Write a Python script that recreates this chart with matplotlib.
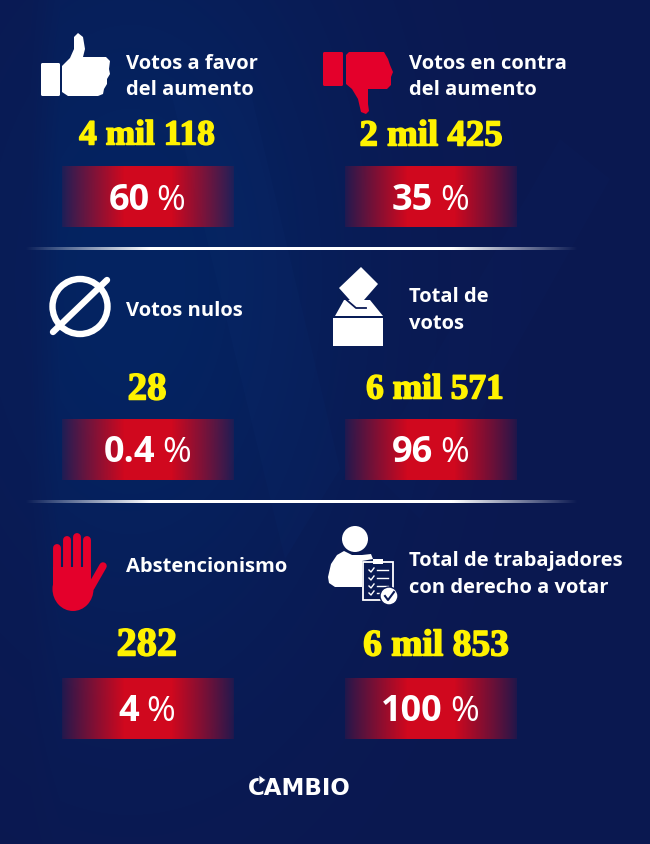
import numpy as np
import matplotlib
matplotlib.use("Agg")
import matplotlib.pyplot as plt
import matplotlib.patheffects as pe
from matplotlib.patches import Polygon, Circle, Rectangle, Ellipse, FancyBboxPatch

# Data
titles = [["Votos a favor", "del aumento"], ["Votos en contra", "del aumento"],
          ["Votos nulos"], ["Total de", "votos"],
          ["Abstencionismo"], ["Total de trabajadores", "con derecho a votar"]]
counts = ["4 mil 118", "2 mil 425", "28", "6 mil 571", "282", "6 mil 853"]
percents = ["60", "35", "0.4", "96", "4", "100"]
logo = "CAMBIO"

# layout in pixels of the 650x845 picture
W, H = 650, 845
col_title_x = [126, 409]
col_center_x = [148, 431]
row_line_y = [[64, 90], [297, 324], [561, 588]]
row_single_y = [75, 311, 567]
row_count_y = [137, 391, 647]
count_center_x = [147, 431, 147, 435, 147, 436]
count_size = [25.5, 26.5, 28, 25.5, 29, 27]
row_band_top = [167, 420, 679]
band_h = 61
band_w = 172
divider_y = [249, 502]

WHITE = "#ffffff"
YELLOW = "#fff200"
RED = "#e4002b"
NAVY = "#0b1a55"

fig = plt.figure(figsize=(6.5, 8.45), dpi=100)
ax = fig.add_axes([0, 0, 1, 1])
ax.set_xlim(0, W)
ax.set_ylim(H, 0)
ax.axis("off")

# background
yy, xx = np.mgrid[0:H, 0:W]
glow = np.exp(-((xx - 130) / 230.0) ** 2 - ((yy - 280) / 400.0) ** 2)
glow = glow * np.clip(xx / 60.0, 0.5, 1)
bg = np.zeros((H, W, 3))
bg[..., 0] = (11 - 7 * glow) / 255
bg[..., 1] = (24 + 12 * glow) / 255
bg[..., 2] = (80 + 18 * glow) / 255
ax.imshow(bg, extent=[0, W, H, 0], aspect="auto", zorder=0)

# faint logo shapes behind everything
ax.add_patch(Polygon([(170, 90), (250, 90), (340, 470), (285, 560)], color="#1a4a99", alpha=0.05, lw=0, zorder=1))
ax.add_patch(Polygon([(560, 140), (610, 180), (420, 520), (370, 470)], color="#1a4a99", alpha=0.03, lw=0, zorder=1))


def text_width(t):
    return t.get_window_extent(fig.canvas.get_renderer()).width


# red bands
def band(cx, top):
    n = 172
    pos = np.abs(np.linspace(-1, 1, n))
    alpha = np.clip((1.0 - pos) / 0.72, 0, 1) ** 0.9 * 0.88 + 0.12
    img = np.zeros((1, n, 4))
    img[..., 0] = 208 / 255
    img[..., 1] = 8 / 255
    img[..., 2] = 30 / 255
    img[0, :, 3] = alpha
    ax.imshow(img, extent=[cx - band_w / 2, cx + band_w / 2, top + band_h, top], aspect="auto", zorder=2)


# divider lines that fade at both ends
for y in divider_y:
    n = 553
    pos = np.abs(np.linspace(-1, 1, n))
    img = np.ones((1, n, 4))
    img[0, :, 3] = np.clip((1.0 - pos) / 0.45, 0, 1)
    ax.imshow(img, extent=[25, 578, y + 1.5, y - 1.5], aspect="auto", zorder=2)

ax.set_xlim(0, W)
ax.set_ylim(H, 0)

# text for every cell
for i in range(6):
    col = i % 2
    row = i // 2
    lines = titles[i]
    if len(lines) == 2:
        for k, line in enumerate(lines):
            ax.text(col_title_x[col], row_line_y[row][k], line, color=WHITE, fontsize=14.5,
                    fontweight="bold", family="Open Sans", ha="left", va="center", zorder=5)
    else:
        ax.text(col_title_x[col], row_single_y[row], lines[0], color=WHITE, fontsize=14.5,
                fontweight="bold", family="Open Sans", ha="left", va="center", zorder=5)

    t = ax.text(count_center_x[i], row_count_y[row], counts[i], color=YELLOW, fontsize=count_size[i],
                fontweight="bold", family="Liberation Serif", ha="center", va="center", zorder=5)
    t.set_path_effects([pe.withStroke(linewidth=1.1, foreground=YELLOW)])

    cx = col_center_x[col]
    band(cx, row_band_top[row])
    # number in bold, percent sign in regular, centred together
    cy = row_band_top[row] + band_h / 2 + 3
    t1 = ax.text(0, cy, percents[i], color=WHITE, fontsize=26, fontweight="bold", family="Open Sans",
                 ha="left", va="center", zorder=5)
    t2 = ax.text(0, cy, "%", color=WHITE, fontsize=25, family="Open Sans", ha="left", va="center", zorder=5)
    w1 = text_width(t1)
    w2 = text_width(t2)
    left = cx - 1 - (w1 + 7 + w2) / 2
    t1.set_x(left)
    t2.set_x(left + w1 + 7)

ax.set_xlim(0, W)
ax.set_ylim(H, 0)

# thumb up
ax.add_patch(FancyBboxPatch((41, 64), 19, 33, boxstyle="round,pad=0,rounding_size=1.5", color=WHITE, lw=0, zorder=4))
ax.add_patch(Polygon([(62, 67), (70, 59), (74, 50), (74, 38), (78, 34), (83, 38), (85, 50), (83, 58), (106, 58),
                      (110, 62), (109, 70), (110, 75), (107, 80), (107, 85), (104, 90), (103, 95), (98, 97),
                      (68, 97), (62, 93)], closed=True, color=WHITE, lw=0, joinstyle="round", zorder=4))

# thumb down
ax.add_patch(FancyBboxPatch((323, 53), 20, 34, boxstyle="round,pad=0,rounding_size=1.5", color=RED, lw=0, zorder=4))
ax.add_patch(Polygon([(346, 56), (349, 53), (384, 53), (388, 60), (390, 66), (393, 73), (391, 78), (391, 86), (387, 90),
                      (368, 90), (368, 105), (369, 112), (366, 115), (361, 113), (358, 100), (352, 90), (346, 85)],
                     closed=True, color=RED, lw=0, zorder=4))

# null sign
ax.add_patch(Circle((80, 307.5), 27.5, fill=False, ec=WHITE, lw=4.6, zorder=4))
ax.plot([53, 107], [333, 281], color=WHITE, lw=4.6, solid_capstyle="round", zorder=4)

# ballot box
ax.add_patch(Polygon([(335, 317), (344, 301), (370, 301), (383, 317)], color=WHITE, lw=0, zorder=4))
ax.add_patch(Rectangle((333, 319), 50, 28, color=WHITE, lw=0, zorder=4))
ax.add_patch(Polygon([(361, 268), (378, 285), (357, 309), (339, 289)], color=WHITE, lw=0, zorder=5))
ax.plot([342, 356, 366], [297, 309, 309], color=NAVY, lw=1.3, zorder=6)

# stop hand
for fx, ftop in zip([57, 67, 77, 87], [549, 541, 538, 541]):
    ax.plot([fx, fx], [ftop, 572], color=RED, lw=5.7, solid_capstyle="round", zorder=4)
ax.add_patch(Rectangle((53, 568), 38, 22, color=RED, lw=0, zorder=4))
ax.add_patch(Ellipse((73, 590), 41, 44, color=RED, lw=0, zorder=4))
ax.plot([91, 103], [588, 567], color=RED, lw=5.4, solid_capstyle="round", zorder=4)

# worker with clipboard
ax.add_patch(Circle((355, 540), 13, color=WHITE, lw=0, zorder=4))
ax.add_patch(Polygon([(344, 552), (352, 556), (362, 556), (371, 555), (373, 560), (362, 562), (362, 588), (335, 588),
                      (329, 584), (328, 578), (331, 565), (337, 556)], color=WHITE, lw=0, zorder=4))
ax.add_patch(Rectangle((363, 563), 30, 38, fill=False, ec=WHITE, lw=1.3, zorder=5))
ax.add_patch(Rectangle((373, 560), 10, 5, color=WHITE, lw=0, zorder=5))
for ly in [571, 579, 587, 594]:
    ax.plot([369, 371, 374], [ly, ly + 2, ly - 2], color=WHITE, lw=1, zorder=5)
    ax.plot([377, 388 if ly < 590 else 380], [ly, ly], color=WHITE, lw=1, zorder=5)
ax.add_patch(Circle((389, 597), 9, color=WHITE, ec=NAVY, lw=1, zorder=6))
ax.plot([385, 388, 394], [597, 601, 593], color=NAVY, lw=1.5, zorder=7)

# logo at the bottom
ax.text(299.5, 789, logo, color=WHITE, fontsize=16.5, fontweight="bold", family="DejaVu Sans",
        ha="center", va="center", zorder=5)
ax.add_patch(Polygon([(259, 776), (266, 781), (259, 786)], color=WHITE, ec=NAVY, lw=0.6, zorder=6))

fig.savefig("out.png", dpi=100)
